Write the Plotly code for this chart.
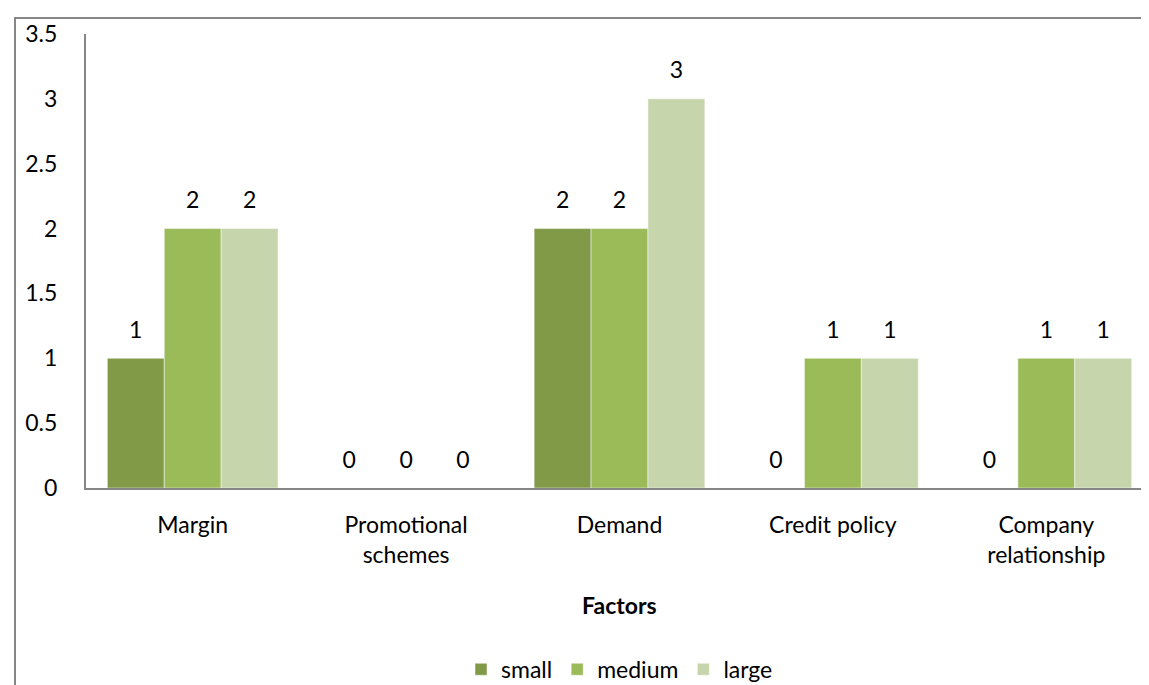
import plotly.graph_objects as go

categories = ["Margin", "Promotional<br>schemes", "Demand", "Credit policy", "Company<br>relationship"]
small = [1, 0, 2, 0, 0]
medium = [2, 0, 2, 1, 1]
large = [2, 0, 3, 1, 1]
series_names = ["small", "medium", "large"]
colors = ["#809A48", "#9BBB59", "#C6D5AC"]
y_ticks = [0, 0.5, 1, 1.5, 2, 2.5, 3, 3.5]

FONT = "Lato"
FS = 23

fig = go.Figure()
for name, vals, col in zip(series_names, [small, medium, large], colors):
    fig.add_trace(go.Bar(
        name=name, x=categories, y=vals,
        marker=dict(color=col, line=dict(color="rgba(255,255,255,0.6)", width=0.8)),
    ))
# value labels, placed with the same grouping as the bars
for name, vals in zip(series_names, [small, medium, large]):
    fig.add_trace(go.Scatter(
        name=name + " labels", x=categories, y=vals, mode="markers+text",
        marker=dict(size=22, opacity=0),
        text=[str(v) for v in vals], textposition="top center",
        textfont=dict(family=FONT, size=FS, color="#000000"),
        cliponaxis=False, showlegend=False, hoverinfo="skip",
    ))

L, R, T, B = 78, 4, 26, 204
W, H = 1149, 685
pw = W - L - R
ph = H - T - B

fig.update_layout(
    width=W, height=H,
    margin=dict(l=L, r=R, t=T, b=B),
    barmode="group", bargap=0.2, bargroupgap=0,
    scattermode="group", scattergap=0.2,
    plot_bgcolor="white", paper_bgcolor="white",
    font=dict(family=FONT, size=FS, color="#000000"),
    showlegend=True,
    legend=dict(orientation="h", x=0.5, xanchor="center",
                y=(480.7 - 661) / ph, yanchor="middle",
                font=dict(family=FONT, size=FS, color="#000000"),
                itemwidth=30, traceorder="normal"),
    xaxis=dict(showline=True, linecolor="#868686", linewidth=2,
               ticks="", showgrid=False, ticklabelstandoff=15,
               tickfont=dict(family=FONT, size=FS, color="#000000")),
    yaxis=dict(range=[0, 3.5], tickvals=y_ticks, showline=True, linecolor="#868686",
               linewidth=2, ticks="", showgrid=False, zeroline=False,
               ticklabelstandoff=22,
               tickfont=dict(family=FONT, size=FS, color="#000000")),
    annotations=[dict(text="<b>Factors</b>", xref="paper", yref="paper",
                      x=0.5, y=(480.7 - 598) / ph, xanchor="center", yanchor="middle",
                      showarrow=False, font=dict(family=FONT, size=FS, color="#000000"))],
    shapes=[dict(type="rect", xref="paper", yref="paper",
                 x0=(7 - L) / pw, x1=(W + 10 - L) / pw,
                 y0=-(H + 10 - 480.7) / ph, y1=1 + (T - 10) / ph,
                 line=dict(color="#868686", width=2), fillcolor="rgba(0,0,0,0)", layer="above")],
)

fig.write_html("out.html")
